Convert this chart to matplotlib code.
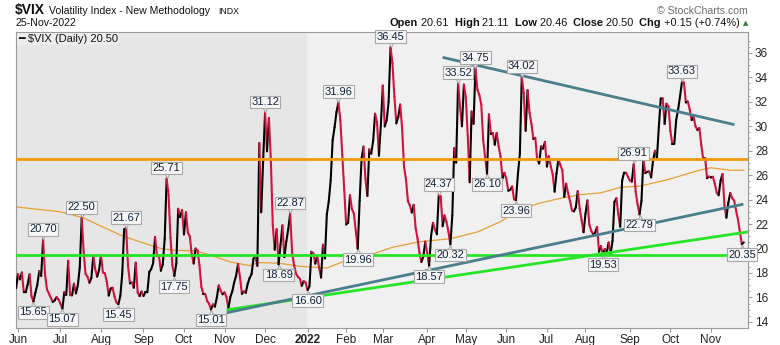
import numpy as np
import matplotlib
matplotlib.use('Agg')
import matplotlib.pyplot as plt
from matplotlib.collections import LineCollection
from matplotlib.transforms import offset_copy

NARROW = ['Liberation Sans Narrow', 'Liberation Sans', 'DejaVu Sans']
plt.rcParams['font.family'] = ['Liberation Sans', 'DejaVu Sans']

# daily closes of $VIX, one list per month (trading days only)
may21 = [16.76]
jun21 = [17.90, 17.48, 18.04, 16.42, 16.42, 17.07, 17.89, 16.10, 15.65, 16.39, 17.02,
         18.15, 17.75, 20.70, 17.89, 16.66, 16.32, 15.97, 15.62, 15.76, 16.02, 15.83]
jul21 = [15.48, 15.07, 16.44, 16.20, 19.00, 16.18, 16.17, 17.12, 16.33, 17.01, 18.45,
         22.50, 19.73, 17.91, 17.69, 17.20, 17.58, 19.36, 18.31, 17.70, 18.24]
aug21 = [19.46, 18.04, 17.97, 17.28, 16.15, 16.72, 16.79, 16.06, 15.59, 15.45, 16.12,
         17.91, 21.57, 21.67, 18.56, 17.15, 17.22, 16.79, 18.84, 16.39, 16.11, 16.48]
sep21 = [16.11, 16.41, 16.41, 18.08, 18.31, 18.80, 20.95, 19.37, 19.46, 18.18, 18.69,
         20.81, 25.71, 24.36, 20.87, 18.63, 17.75, 18.76, 23.25, 22.56, 23.14]
oct21 = [21.15, 22.96, 21.30, 21.00, 19.54, 18.77, 20.00, 19.85, 18.64, 16.86, 16.30,
         16.30, 15.70, 15.49, 15.01, 15.43, 15.24, 15.98, 16.98, 16.53, 16.26]
nov21 = [16.41, 16.03, 15.10, 16.03, 16.48, 17.22, 17.78, 18.73, 17.66, 16.29, 16.49,
         16.37, 17.11, 17.59, 17.91, 19.17, 19.38, 18.58, 28.62, 22.96, 27.19]
dec21 = [31.12, 27.95, 30.67, 27.18, 21.89, 19.90, 21.58, 18.69, 20.31, 21.89, 19.29,
         20.57, 21.57, 22.87, 19.70, 18.63, 17.96, 17.68, 17.54, 16.95, 17.33, 17.22]
jan22 = [16.60, 16.91, 19.73, 19.61, 18.76, 19.40, 18.41, 17.62, 20.31, 19.19, 22.79,
         23.85, 25.59, 28.85, 29.90, 31.16, 31.96, 30.49, 27.66, 24.83]
feb22 = [21.96, 22.09, 24.35, 23.22, 22.86, 21.44, 19.96, 23.91, 27.36, 28.33, 25.70,
         24.29, 28.11, 27.75, 28.81, 31.02, 30.32, 27.59, 30.15]
mar22 = [33.32, 29.98, 30.48, 31.98, 36.45, 35.13, 32.45, 30.23, 30.75, 31.77, 29.83,
         26.67, 25.67, 23.87, 23.53, 22.94, 23.57, 21.67, 20.81, 19.63, 18.90, 19.33, 20.56]
apr22 = [19.63, 18.57, 21.03, 22.10, 21.55, 21.16, 24.37, 24.26, 21.82, 22.70, 22.17,
         21.37, 20.32, 22.68, 28.21, 27.02, 33.52, 31.60, 29.99, 33.40]
may22 = [32.34, 29.25, 25.42, 31.20, 30.19, 34.75, 32.99, 32.56, 31.77, 28.87, 27.47,
         26.10, 30.96, 29.35, 29.43, 28.48, 29.45, 28.37, 27.50, 25.72, 26.19]
jun22 = [25.69, 24.72, 24.79, 25.07, 24.02, 23.96, 26.09, 27.75, 34.02, 32.69, 29.62,
         32.95, 31.13, 30.19, 28.95, 29.05, 27.23, 26.95, 28.36, 28.16, 28.71]
jul22 = [26.70, 27.54, 26.73, 26.08, 24.64, 26.17, 27.29, 26.82, 26.40, 24.23, 25.30,
         24.50, 23.88, 23.11, 23.03, 23.36, 24.69, 23.24, 22.33, 21.33]
aug22 = [22.84, 23.93, 21.95, 21.44, 21.15, 21.29, 21.77, 19.74, 20.20, 19.53, 19.95,
         19.69, 20.49, 19.56, 20.60, 23.80, 24.11, 22.82, 21.78, 25.56, 26.21, 26.21, 25.87]
sep22 = [25.56, 25.47, 26.91, 24.64, 23.61, 22.79, 23.87, 27.27, 26.16, 26.27, 26.30,
         25.81, 27.16, 27.99, 27.35, 29.92, 32.26, 32.27, 30.18, 31.84, 31.62]
oct22 = [29.59, 28.55, 28.55, 30.52, 31.36, 32.45, 33.63, 33.57, 31.94, 32.02, 31.37,
         30.50, 30.76, 29.98, 29.69, 29.85, 28.46, 27.28, 27.39, 25.75, 25.88]
nov22 = [25.81, 25.86, 25.30, 24.55, 24.35, 25.54, 26.09, 23.53, 22.52, 23.73, 24.54,
         24.11, 23.93, 23.12, 22.36, 21.35, 20.35, 20.50]

month_labels = ['Jun', 'Jul', 'Aug', 'Sep', 'Oct', 'Nov', 'Dec', '2022', 'Feb', 'Mar',
                'Apr', 'May', 'Jun', 'Jul', 'Aug', 'Sep', 'Oct', 'Nov']
month_closes = [jun21, jul21, aug21, sep21, oct21, nov21, dec21, jan22, feb22, mar22,
                apr22, may22, jun22, jul22, aug22, sep22, oct22, nov22]

# 200-day moving average (trading-day index, value)
ma_day = [-1, 22, 34, 42, 53, 63, 74, 80, 92, 99, 110, 120, 125, 135, 146, 160, 168,
          182, 194, 208, 224, 238, 250, 259, 270, 281, 291, 302, 312, 322, 336, 353,
          359, 369, 376]
ma_val = [23.4, 23.0, 22.5, 21.9, 21.1, 20.55, 20.0, 19.86, 19.8, 19.5, 18.9, 18.6,
          18.85, 18.8, 18.55, 18.4, 18.9, 19.45, 20.1, 20.55, 20.8, 21.35, 22.2, 23.1,
          23.7, 24.1, 24.4, 24.55, 25.0, 25.1, 25.6, 26.4, 26.6, 26.4, 26.4]

# drawn lines
resistance = 27.28
support = 19.5
green_day, green_val = [108.8, 378.2], [15.0, 21.36]
teal_lo_day, teal_lo_val = [108.8, 375.1], [14.77, 23.6]
teal_hi_day, teal_hi_val = [220.7, 370.5], [35.6, 30.15]

# annotated swing points
lab_day = [8, 13, 23, 33, 52, 56, 77, 81, 100, 128, 135, 141, 150, 166, 176, 193, 213,
           218, 224, 228, 237, 243, 258, 261, 303, 319, 322, 344, 375]
lab_up = [0, 1, 0, 1, 0, 1, 1, 0, 0, 1, 0, 1, 0, 1, 0, 1, 0,
          1, 0, 1, 1, 0, 0, 1, 0, 1, 0, 1, 0]

vix = np.array(may21 + sum(month_closes, []))
days = np.arange(len(vix)) - len(may21)
month_pos = np.cumsum([0] + [len(m) for m in month_closes[:-1]])

W, H = 780, 345
fig = plt.figure(figsize=(W / 100, H / 100), dpi=100)
ax = fig.add_axes([16 / W, 17 / H, 732 / W, 296 / H])
ax.set_facecolor('#F0F0F0')
ax.set_xlim(-1.04, 378.2)
ax.set_ylim(13.5, 37.7)

# 2021 shaded a bit darker
ax.axvspan(-1.04, month_pos[7] - 0.5, color='#E6E6E6', lw=0, zorder=0)

ax.plot(ma_day, ma_val, color='#E3A132', lw=0.9, zorder=2)

pts = np.column_stack([days, vix])
segs = np.stack([pts[:-1], pts[1:]], axis=1)
cols = np.where(vix[1:] >= vix[:-1], '#000000', '#D3123D')
ax.add_collection(LineCollection(segs, colors=cols, linewidths=1.5,
                                 capstyle='round', joinstyle='round', zorder=3))

ax.axhline(resistance, color='#F39A0C', lw=2.0, zorder=4)
ax.axhline(support, color='#26E526', lw=2.0, zorder=4)
ax.plot(green_day, green_val, color='#26E526', lw=2.0, zorder=4)
ax.plot(teal_lo_day, teal_lo_val, color='#4A7E8C', lw=2.0, zorder=4)
ax.plot(teal_hi_day, teal_hi_val, color='#4A7E8C', lw=2.0, zorder=4)

for d, up in zip(lab_day, lab_up):
    v = vix[d + len(may21)]
    s = 1 if up else -1
    tri = offset_copy(ax.transData, fig=fig, x=0, y=s * 4.5, units='dots')
    ax.plot([d], [v], marker='v' if up else '^', ms=5.5, mfc='#F6F6F6', mec='#A8A8A8',
            mew=0.8, transform=tri, zorder=5)
    ax.annotate('%.2f' % v, (d, v), xytext=(0, s * 7.6), textcoords='offset points',
                ha='center', va='center', fontsize=8, family=NARROW, color='#13233A',
                bbox=dict(boxstyle='square,pad=0.12', fc='#F6F6F6', ec='#A8A8A8', lw=0.8),
                zorder=6)

for sp in ax.spines.values():
    sp.set_color('#9A9A9A')
    sp.set_linewidth(0.8)

ax.yaxis.tick_right()
ax.set_yticks(np.arange(14, 37, 2))
ax.set_yticks(np.arange(14, 37.5, 0.5), minor=True)
ax.tick_params(axis='y', which='major', length=3, width=0.8, color='#9A9A9A',
               labelsize=8.5, labelcolor='#222222', pad=2)
ax.tick_params(axis='y', which='minor', length=1.5, width=0.6, color='#9A9A9A')
ax.set_xticks(month_pos)
ax.set_xticklabels(month_labels, family=NARROW)
ax.tick_params(axis='x', length=3, width=0.8, color='#9A9A9A', labelsize=8.5,
               labelcolor='#222222', pad=1.5)
ax.get_xticklabels()[7].set_fontweight('bold')

ax.text(0.003, 0.993, '\u2501 \\$VIX (Daily) 20.50', transform=ax.transAxes,
        ha='left', va='top', fontsize=8, family=NARROW, color='#111111', zorder=7,
        bbox=dict(boxstyle='square,pad=0.1', fc='#EDEDED', ec='none'))

# header
r = fig.canvas.get_renderer()


def put(x, y, txt, size, bold=False, color='#111111', family=None, ha='left'):
    t = fig.text(x / W, 1 - y / H, txt, fontsize=size, color=color, ha=ha,
                 va='baseline', fontweight='bold' if bold else 'normal',
                 family=family or ['Liberation Sans', 'DejaVu Sans'])
    return x + t.get_window_extent(renderer=r).width


put(15, 14, '\\$VIX', 10, bold=True)
put(49, 14, 'Volatility Index - New Methodology', 7.6)
put(218, 14, 'INDX', 6.3)
put(16, 26, '25-Nov-2022', 7.6)
put(748, 14, '\u00a9 StockCharts.com', 7.6, color='#6E6E6E', ha='right')

x = 390
for txt, bold in [('Open', 1), (' 20.61 ', 0), (' High', 1), (' 21.11 ', 0), (' Low', 1),
                  (' 20.46 ', 0), (' Close', 1), (' 20.50 ', 0), (' Chg', 1),
                  (' +0.15 (+0.74%)', 0)]:
    x = put(x, 26, txt, 7.9, bold=bool(bold))
put(x + 3, 25, '\u25b2', 5, color='#2E7D32', family=['DejaVu Sans'])

fig.savefig('out.png', dpi=100)
